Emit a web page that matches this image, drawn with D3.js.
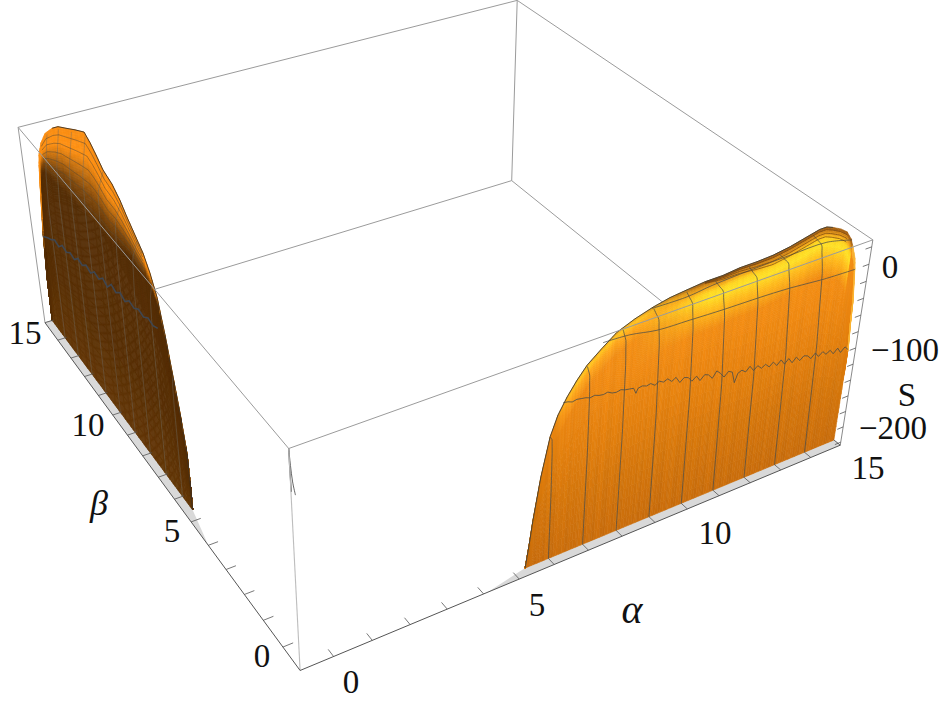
<!DOCTYPE html>
<html><head><meta charset="utf-8">
<script src="https://cdn.jsdelivr.net/npm/d3@7"></script>
<style>html,body{margin:0;padding:0;background:#fff}svg{display:block}
text{font-family:"Liberation Serif",serif;fill:#111}</style></head><body>
<svg id="c" width="941" height="702"></svg>
<script>
const alphaTicks=[0,1,2,3,4,5,6,7,8,9,10,11,12,13,14,15];
const betaTicks=alphaTicks;
const sTicks=[-220,-200,-180,-160,-140,-120,-100,-80,-60,-40,-20,0,20];
const axisLabels=[["0",351,682],["5",537,605],["10",715,533],["15",868,468],["0",262,656],["5",172,531],["10",88,425],["15",25,333],["0",890,267],["−100",905,350],["−200",893,428]];
const boxMin=-0.85,boxMax=15,sMin=-224,sMax=28;
const cornerUnit=[[0,0,0],[1,0,0],[1,0,1],[0,0,1],[0,1,0],[0,1,1],[1,1,0],[1,1,1]];
const cornerPixel=[[300,671],[840,445],[873,240],[289,448],[45,322],[18,128],[512,181],[517,0]];

const rightAlpha=[5.33,5.42,5.50,5.67,5.88,6.07,6.30,6.55,6.81,7.20,7.59,8.08,8.58,9.05,9.53,10.05,10.57,11.07,11.57,12.05,12.56,13.00,13.44,13.66,13.86,14.13,14.35,14.52,14.63,14.75,14.80,14.91,14.94,15];
const rightCrest=[-224,-196,-167,-118,-74,-52,-35,-20,-7,6,18,26,32,36,38,40,40,42,42,43,46,50,54,54,51,46,40,30,19,5,-7,-46,-71,-105];
const leftBeta=[5.39,5.395,5.43,5.65,5.89,6.16,6.45,6.76,7.09,7.51,7.93,8.29,8.73,9.26,9.64,9.98,10.33,10.99,11.67,12.30,12.79,13.43,13.89,14.17,14.31,14.46,14.77,14.95,15];
const leftCrest=[-224,-186,-153,-110,-73,-31,5,25,40,51,62,73,82,87,96,103,108,98,87,77,66,48,28,10,-7,-35,-102,-164,-224];
const leftCapStart=[.97,.97,.97,.97,.97,.97,.96,.93,.9,.86,.84,.8,.77,.74,.72,.7,.68,.7,.72,.74,.76,.8,.86,.9,.93,.96,.99,1,1];
const meshValues=[6,7,8,9,10,11,12,13,14];
const meshTopShift=[.12,.19,.25,.42,.5,.7,.7,.8,.8];
const streak=[.0,.03,-.02,.05,.01,-.03,.04,-.01,.02,-.04,.03,.06,-.02,.0,-.05,.02,.04,-.03,.01,.05,-.02,-.04,.03,.0];

const noiseAlpha=[6.2,6.33,6.45,6.58,6.7,6.83,6.95,7.08,7.2,7.33,7.45,7.58,7.7,7.83,7.95,8.08,8.2,8.28,8.33,8.45,8.58,8.7,8.83,8.95,9.08,9.2,9.33,9.45,9.58,9.7,9.83,9.95,10.08,10.2,10.33,10.45,10.58,10.7,10.83,10.95,11.08,11.2,11.3,11.38,11.5,11.63,11.75,11.88,12,12.13,12.25,12.38,12.5,12.63,12.75,12.88,13,13.13,13.25,13.38,13.5,13.63,13.75,13.88,14,14.13,14.25,14.38,14.5,14.63,14.75,14.88,15];
const noiseS=[-40,-41,-43,-42,-43,-44,-46,-45,-47,-48,-47,-50,-51,-50,-52,-53,-54,-61,-56,-55,-57,-56,-60,-57,-60,-58,-63,-60,-68,-64,-66,-72,-68,-75,-70,-72,-78,-71,-76,-82,-77,-80,-94,-84,-82,-86,-81,-88,-84,-89,-86,-91,-87,-93,-88,-95,-90,-97,-92,-98,-94,-96,-101,-96,-102,-98,-103,-100,-106,-101,-108,-103,-108];
const levelBAlpha=[7.22,7.97,8.75,9.71,10.74,11.71,12.73,13.75,14.81];
const levelBS=[12,10,4,2,0,-1,-3,-7,-9];
const levelCAlpha=[8.55,9.55,10.30,11.38,12.59,13.73,14.56];
const levelCS=[31,30,33,35,36,36,28];
const capOffsets=[3,7,11];
const leftNoiseBeta=[6.6,6.9,7.2,7.5,7.8,8.1,8.4,8.7,9,9.3,9.6,9.9,10.2,10.5,10.8,11.1,11.4,11.7,12,12.3,12.6,12.9,13.2,13.5,13.8,14.1,14.4,14.8];
const leftNoiseS=[-34,-38,-36,-42,-40,-46,-44,-52,-48,-55,-52,-62,-58,-66,-64,-72,-69,-76,-74,-82,-80,-86,-84,-92,-90,-96,-100,-107];
const sliverS=[28,10,-8,-23];
const sliverA=[-.85,-.83,-.8,-.75];
const sliverInnerS=[28,8,-18];
const sliverInnerA=[-.85,-.85,-.84];

function fitCamera(){
  const A=[],b=[];
  cornerUnit.forEach((c,i)=>{const [x,y,z]=c,[u,v]=cornerPixel[i];
    A.push([x,y,z,1,0,0,0,0,-u*x,-u*y,-u*z]);b.push(u);
    A.push([0,0,0,0,x,y,z,1,-v*x,-v*y,-v*z]);b.push(v);});
  const n=11,N=d3.range(n).map(i=>d3.range(n+1).map(j=>{let s=0;A.forEach((r,k)=>{s+=r[i]*(j<n?r[j]:b[k]);});return s;}));
  for(let i=0;i<n;i++){let p=i;for(let k=i+1;k<n;k++)if(Math.abs(N[k][i])>Math.abs(N[p][i]))p=k;
    [N[i],N[p]]=[N[p],N[i]];
    for(let k=0;k<n;k++)if(k!==i){const f=N[k][i]/N[i][i];for(let j=i;j<=n;j++)N[k][j]-=f*N[i][j];}}
  return N.map((r,i)=>r[n]/r[i]);
}
const P=fitCamera();
const ax=d3.scaleLinear().domain([boxMin,boxMax]).range([0,1]);
const ay=d3.scaleLinear().domain([boxMin,boxMax]).range([0,1]);
const az=d3.scaleLinear().domain([sMin,sMax]).range([0,1]);
function proj(a,b,s){const x=ax(a),y=ay(b),z=az(s),w=P[8]*x+P[9]*y+P[10]*z+1;
  return [(P[0]*x+P[1]*y+P[2]*z+P[3])/w,(P[4]*x+P[5]*y+P[6]*z+P[7])/w];}

const svg=d3.select("#c");
const line=d3.line();
const edge=(p,q,col,w)=>svg.append("path").attr("d",line([proj(...p),proj(...q)])).attr("fill","none").attr("stroke",col).attr("stroke-width",w);
const lo=boxMin,hi=boxMax;
const backCol="#9b9b9b";
edge([hi,hi,sMin],[hi,hi,sMax],backCol,1);
edge([hi,hi,sMin],[lo,hi,sMin],backCol,1);
edge([hi,hi,sMin],[hi,lo,sMin],backCol,1);
edge([hi,hi,sMax],[lo,hi,sMax],backCol,1);
edge([hi,hi,sMax],[hi,lo,sMax],backCol,1);

const wallB=lo+.25,wallA=lo+.22;
svg.append("path").attr("d",line([proj(4.1,lo,sMin),proj(5.33,wallB,sMin),proj(15,wallB,sMin),proj(hi,lo,sMin)])).attr("fill","#d9d9d9");
svg.append("path").attr("d",line([proj(lo,4.0,sMin),proj(wallA,5.39,sMin),proj(wallA,15,sMin),proj(lo,hi,sMin)])).attr("fill","#d9d9d9");

const rowT=d3.range(0,.7,.05).concat(d3.range(.7,1.0001,.01));
const crestR=d3.scaleLinear().domain(rightAlpha).range(rightCrest).clamp(true);
const crestL=d3.scaleLinear().domain(leftBeta).range(leftCrest).clamp(true);
const capL=d3.scaleLinear().domain(leftBeta).range(leftCapStart).clamp(true);
const g=svg.append("g");

const sRamp=d3.scaleLinear().domain([-224,-150,-90,-30,30]).range(["#c86c0c","#d4760c","#e3800e","#f08a12","#f69216"]);
const dRamp=d3.scaleLinear().domain([0,3,8,13,20,34,58]).range(["#8a4c12","#c87c14","#f2a418","#ffd420","#ffe026","#ffbb1c","#f08a12"]);
const dRampLow=d3.scaleLinear().domain([0,3,10,26]).range(["#f0a020","#ffc61e","#ffa81c","#f08c14"]);
function rightColor(a,s,i){
  const c=crestR(a),d=c-s,base=d3.color(sRamp(s));
  let col;
  if(a>14.6) col=d<6?d3.color("#f9b232"):base;
  else if(c<-60) col=base;
  else if(a<8.2){
    const w=Math.min(1,Math.max(0,(c+60)/40));
    col=d>=26?base:d3.color(d3.interpolateRgb(base,dRampLow(d))(w));
  }
  else if(d>=58) col=base;
  else col=d3.color(d3.interpolateRgb(dRampLow(Math.min(d,26)),dRamp(d))(Math.min(1,(a-8.2)/2)));
  const k=1+streak[i%streak.length]*.5*(1-Math.max(0,(s+224)/500));
  return d3.rgb(col.r*k,col.g*k,col.b*k).formatHex();
}
const colsR=d3.range(5.33,15.001,.08);
if(colsR[colsR.length-1]<15)colsR.push(15);
rightAlpha.forEach(a=>{if(!colsR.includes(a))colsR.push(a);});colsR.sort(d3.ascending);
colsR.slice(0,-1).forEach((a0,i)=>{const a1=colsR[i+1];
  rowT.slice(0,-1).forEach((t0,j)=>{const t1=rowT[j+1];
    const c0=crestR(a0),c1=crestR(a1),S=(c,t)=>sMin+t*(c-sMin);
    const pts=[proj(a0,wallB,S(c0,t0)),proj(a1,wallB,S(c1,t0)),proj(a1,wallB,S(c1,t1)),proj(a0,wallB,S(c0,t1))];
    const col=rightColor((a0+a1)/2,S((c0+c1)/2,(t0+t1)/2),i);
    g.append("polygon").attr("points",pts.join(" ")).attr("fill",col).attr("stroke",col).attr("stroke-width",.6);
  });});

const wallRamp=d3.scaleLinear().domain([0,.4,1]).range(["#623505","#572e04","#542d05"]);
const capRamp=d3.scaleLinear().domain([0,.3,.55,.75,1]).range(["#542d05","#7f480c","#c87210","#ff9012","#f98d12"]);
function leftColor(b,t,i){
  const tc=capL(b);let col;
  if(t<tc) col=d3.color(wallRamp(t/tc));
  else col=d3.color(capRamp((t-tc)/(1-tc+1e-6)));
  const k=1+streak[i%streak.length]*.3;
  return d3.rgb(col.r*k,col.g*k,col.b*k).formatHex();
}
const colsL=d3.range(5.39,15.001,.08);if(colsL[colsL.length-1]<15)colsL.push(15);
leftBeta.forEach(a=>{if(!colsL.includes(a))colsL.push(a);});colsL.sort(d3.ascending);
colsL.slice(0,-1).forEach((b0,i)=>{const b1=colsL[i+1];
  rowT.slice(0,-1).forEach((t0,j)=>{const t1=rowT[j+1];
    const c0=crestL(b0),c1=crestL(b1),S=(c,t)=>sMin+t*(c-sMin);
    const pts=[proj(wallA,b0,S(c0,t0)),proj(wallA,b1,S(c1,t0)),proj(wallA,b1,S(c1,t1)),proj(wallA,b0,S(c0,t1))];
    const col=leftColor((b0+b1)/2,(t0+t1)/2,i);
    g.append("polygon").attr("points",pts.join(" ")).attr("fill",col).attr("stroke",col).attr("stroke-width",.6);
  });});

const smooth=d3.line().curve(d3.curveCatmullRom);
const shiftR=d3.scaleLinear().domain([0,.5,.82,.93,1]).range([0,.14,.35,.53,1]);
const meshT=d3.range(0,1.0001,.03);
const meshCol="#4f4f48";
meshValues.forEach((v,i)=>{
  const pts=meshT.map(t=>{const a=v-shiftR(t)*meshTopShift[i];return proj(a,wallB,sMin+t*(crestR(a)-sMin));});
  svg.append("path").attr("d",smooth(pts)).attr("fill","none").attr("stroke",meshCol).attr("stroke-width",.9).attr("stroke-opacity",.85);
});
[[levelBAlpha,levelBS],[levelCAlpha,levelCS]].forEach(([as,ss])=>{
  svg.append("path").attr("d",smooth(as.map((a,i)=>proj(a,wallB,ss[i])))).attr("fill","none").attr("stroke",meshCol).attr("stroke-width",.9).attr("stroke-opacity",.85);
});
svg.append("path").attr("d",line(noiseAlpha.map((a,i)=>proj(a,wallB,noiseS[i])))).attr("fill","none").attr("stroke",meshCol).attr("stroke-width",.85);
capOffsets.forEach(o=>{
  const as=colsR.filter(a=>a>=10&&a<=14.4);
  svg.append("path").attr("d",line(as.map(a=>proj(a,wallB,crestR(a)-o*Math.min(1,(a-9.6)/2.5))))).attr("fill","none").attr("stroke","#6a3e10").attr("stroke-width",.8).attr("stroke-opacity",.8);
});
const shiftL=d3.scaleLinear().domain([0,.7,.85,1]).range([0,.05,.2,.75]);
meshValues.forEach(v=>{
  const scale=Math.min(1,(v-5.6)/3);
  const pts=meshT.map(t=>{const b=v-shiftL(t)*scale;return proj(wallA,b,sMin+t*(crestL(b)-sMin));});
  svg.append("path").attr("d",smooth(pts)).attr("fill","none").attr("stroke","#6e6a60").attr("stroke-width",.8).attr("stroke-opacity",.55);
});
const hatch=[.15,.3,.45,.6,.75,.88];
hatch.forEach(h=>{
  const bs=colsL.filter(b=>b>=7.1&&b<=13.9);
  svg.append("path").attr("d",line(bs.map(b=>{const tc=capL(b),t=tc+(1-tc)*h;return proj(wallA,b,sMin+t*(crestL(b)-sMin));}))).attr("fill","none").attr("stroke","#5c4a30").attr("stroke-width",.8).attr("stroke-opacity",.7);
});
svg.append("path").attr("d",line(leftNoiseBeta.map((b,i)=>proj(wallA,b,leftNoiseS[i])))).attr("fill","none").attr("stroke","#3f4650").attr("stroke-width",1.6);

svg.append("path").attr("d",line(rightAlpha.filter(a=>a<=14.0).map(a=>proj(a,wallB,crestR(a))))).attr("fill","none").attr("stroke","#3d3d36").attr("stroke-width",.9);
svg.append("path").attr("d",line(leftBeta.filter(b=>b<=12.8).map(b=>proj(wallA,b,crestL(b))))).attr("fill","none").attr("stroke","#3d3226").attr("stroke-width",.9);

svg.append("path").attr("d",smooth(sliverS.map((s,i)=>proj(sliverA[i],lo,s)))).attr("fill","none").attr("stroke","#555").attr("stroke-width",.9);
svg.append("path").attr("d",smooth(sliverInnerS.map((s,i)=>proj(sliverInnerA[i],lo,s)))).attr("fill","none").attr("stroke","#5a5a5a").attr("stroke-width",1.2);

edge([lo,lo,sMin],[lo,lo,sMax],"#bdbdbd",1.1);
edge([lo,lo,sMax],[hi,lo,sMax],backCol,1);
edge([lo,lo,sMax],[lo,hi,sMax],backCol,1);
edge([lo,hi,sMin],[lo,hi,sMax],backCol,1);
edge([hi,lo,sMax],[hi,lo,sMin],"#8a8a8a",1);
edge([lo,lo,sMin],[hi,lo,sMin],"#555",1);
edge([lo,lo,sMin],[lo,hi,sMin],"#555",1);

const tickCol="#555";
alphaTicks.forEach(a=>{svg.append("path").attr("d",line([proj(a,lo,sMin),proj(a,lo+.26,sMin)])).attr("stroke",tickCol).attr("stroke-width",.8);});
betaTicks.forEach(b=>{svg.append("path").attr("d",line([proj(lo,b,sMin),proj(lo+.26,b,sMin)])).attr("stroke",tickCol).attr("stroke-width",.8);});
sTicks.forEach(s=>{svg.append("path").attr("d",line([proj(hi,lo,s),proj(hi-.2,lo,s)])).attr("stroke",tickCol).attr("stroke-width",.8);});

axisLabels.forEach(([t,x,y])=>svg.append("text").attr("x",x).attr("y",y+11).attr("text-anchor","middle").attr("font-size",33).text(t));
svg.append("text").attr("x",632).attr("y",623).attr("text-anchor","middle").attr("font-size",40).attr("font-style","italic").text("α");
svg.append("text").attr("x",99).attr("y",515).attr("text-anchor","middle").attr("font-size",36).attr("font-style","italic").text("β");
svg.append("text").attr("x",907).attr("y",406).attr("text-anchor","middle").attr("font-size",33).text("S");
</script></body></html>
